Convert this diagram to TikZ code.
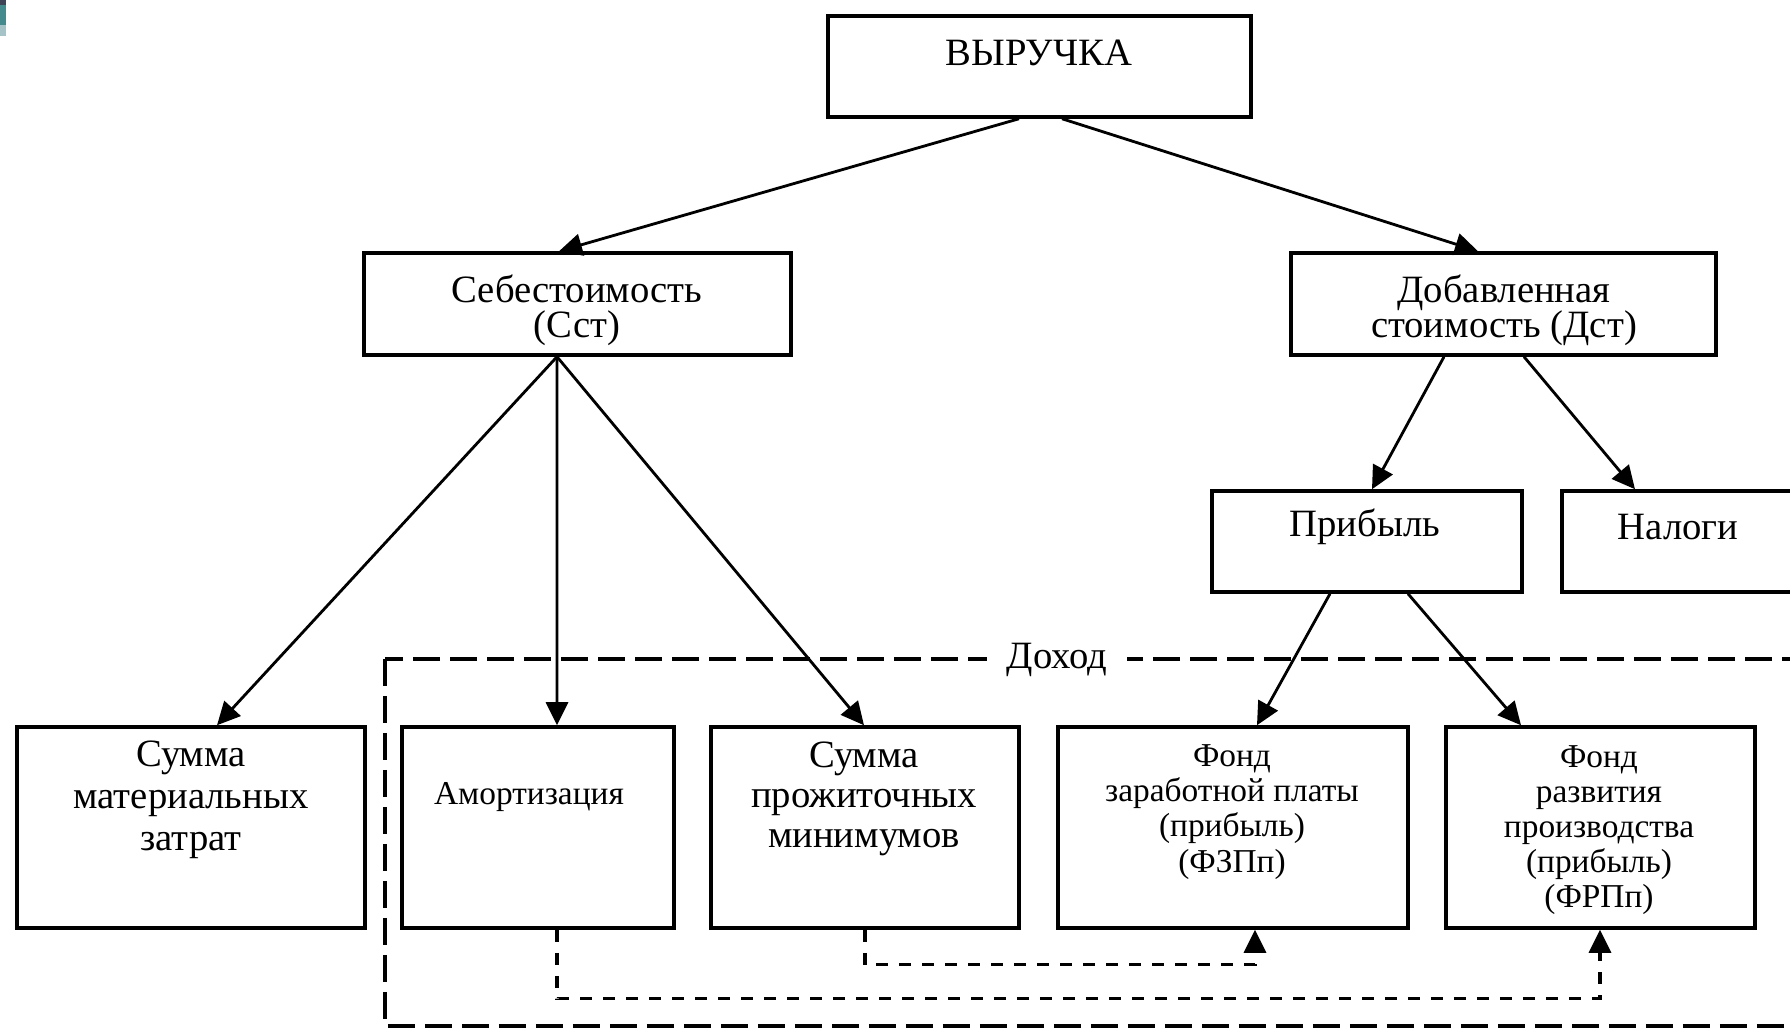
\documentclass[tikz,border=0pt]{standalone}
\usepackage{fontspec}
\setmainfont{Liberation Serif}
\usetikzlibrary{arrows.meta}
\definecolor{stripdark}{HTML}{3F4456}
\definecolor{stripmid}{HTML}{458A8C}
\definecolor{striplight}{HTML}{A6C4C8}
\tikzset{
  box/.style={draw, line width=1pt, inner sep=0pt},
  txt/.style={align=center, inner sep=0pt, font=\fontsize{11}{10}\selectfont},
  small/.style={txt, font=\fontsize{9.5}{10}\selectfont},
  arr/.style={-{Triangle[length=2.3mm,width=2.2mm]}, line width=0.8pt},
  flow/.style={arr, line width=0.9pt, dash pattern=on 1.2mm off 1.1mm},
  frame/.style={line width=1pt, dash pattern=on 2.7mm off 1mm}
}
\begin{document}
\begin{tikzpicture}[x=0.1mm,y=-0.1mm]
        \useasboundingbox (0,0) rectangle (1790,1030);
        % corner strip of the slide
        \fill[stripdark] (0,0) rectangle (6,5);
        \fill[stripmid] (0,5) rectangle (6,25);
        \fill[striplight] (0,25) rectangle (6,36);

        % The income frame
        \draw[frame] (385,659) rectangle (1840,1026);
        \node[txt, fill=white, inner xsep=2mm, inner ysep=0.5mm] (income) at (1057,660) {Доход};

        % The boxes
        \node[box, minimum width=42.3mm, minimum height=10.1mm] (rev) at (1039.5,66.5) {};
        \node[box, minimum width=42.7mm, minimum height=10.2mm] (cost) at (577.5,304) {};
        \node[box, minimum width=42.5mm, minimum height=10.2mm] (added) at (1503.5,304) {};
        \node[box, minimum width=31mm, minimum height=10.1mm] (profit) at (1367,541.5) {};
        \node[box, minimum width=23.8mm, minimum height=10.1mm] (tax) at (1681,541.5) {};
        \node[box, minimum width=34.8mm, minimum height=20.1mm] (matsum) at (191,827.5) {};
        \node[box, minimum width=27.2mm, minimum height=20.1mm] (amort) at (538,827.5) {};
        \node[box, minimum width=30.8mm, minimum height=20.1mm] (livsum) at (865,827.5) {};
        \node[box, minimum width=35mm, minimum height=20.1mm] (wagefund) at (1233,827.5) {};
        \node[box, minimum width=30.9mm, minimum height=20.1mm] (devfund) at (1600.5,827.5) {};

        % The texts
        \node[txt] (rev-t) at (1039,53) {ВЫРУЧКА};
        \node[txt] (cost-t) at (577,310) {Себестоимость\\(Сст)};
        \node[txt] (added-t) at (1504,310) {Добавленная\\стоимость (Дст)};
        \node[txt] (profit-t) at (1365,527) {Прибыль};
        \node[txt] (tax-t) at (1678,527) {Налоги};
        \node[txt, font=\fontsize{11}{12}\selectfont] (matsum-t) at (191,800) {Сумма\\материальных\\затрат};
        \node[small] (amort-t) at (529,797) {Амортизация};
        \node[txt, font=\fontsize{11}{11.4}\selectfont] (livsum-t) at (864,799) {Сумма\\прожиточных\\минимумов};
        \node[small] (wagefund-t) at (1232,812) {Фонд\\заработной платы\\(прибыль)\\(ФЗПп)};
        \node[small] (devfund-t) at (1599,830) {Фонд\\развития\\производства\\(прибыль)\\(ФРПп)};

        % Arrows
        \draw[arr] ([xshift=-2.05mm]rev.south) -- ([xshift=-1.85mm]cost.north);
        \draw[arr] ([xshift=2.25mm]rev.south) -- ([xshift=-2.55mm]added.north);
        \draw[arr] ([xshift=-2.05mm]cost.south) -- ([xshift=2.6mm]matsum.north);
        \draw[arr] ([xshift=-2.05mm]cost.south) -- ([xshift=1.9mm]amort.north);
        \draw[arr] ([xshift=-2.05mm]cost.south) -- ([xshift=-0.1mm]livsum.north);
        \draw[arr] ([xshift=-5.95mm]added.south) -- ([xshift=0.5mm]profit.north);
        \draw[arr] ([xshift=2.05mm]added.south) -- ([xshift=-4.6mm]tax.north);
        \draw[arr] ([xshift=-3.7mm]profit.south) -- ([xshift=2.4mm]wagefund.north);
        \draw[arr] ([xshift=4.1mm]profit.south) -- ([xshift=-7.95mm]devfund.north);

        % Dashed links
        \draw[flow] (livsum.south) -- ++(0,35) -| ([xshift=2.2mm]wagefund.south);
        \draw[flow] ([xshift=1.9mm]amort.south) -- ++(0,69) -| ([xshift=-0.05mm]devfund.south);
\end{tikzpicture}
\end{document}
